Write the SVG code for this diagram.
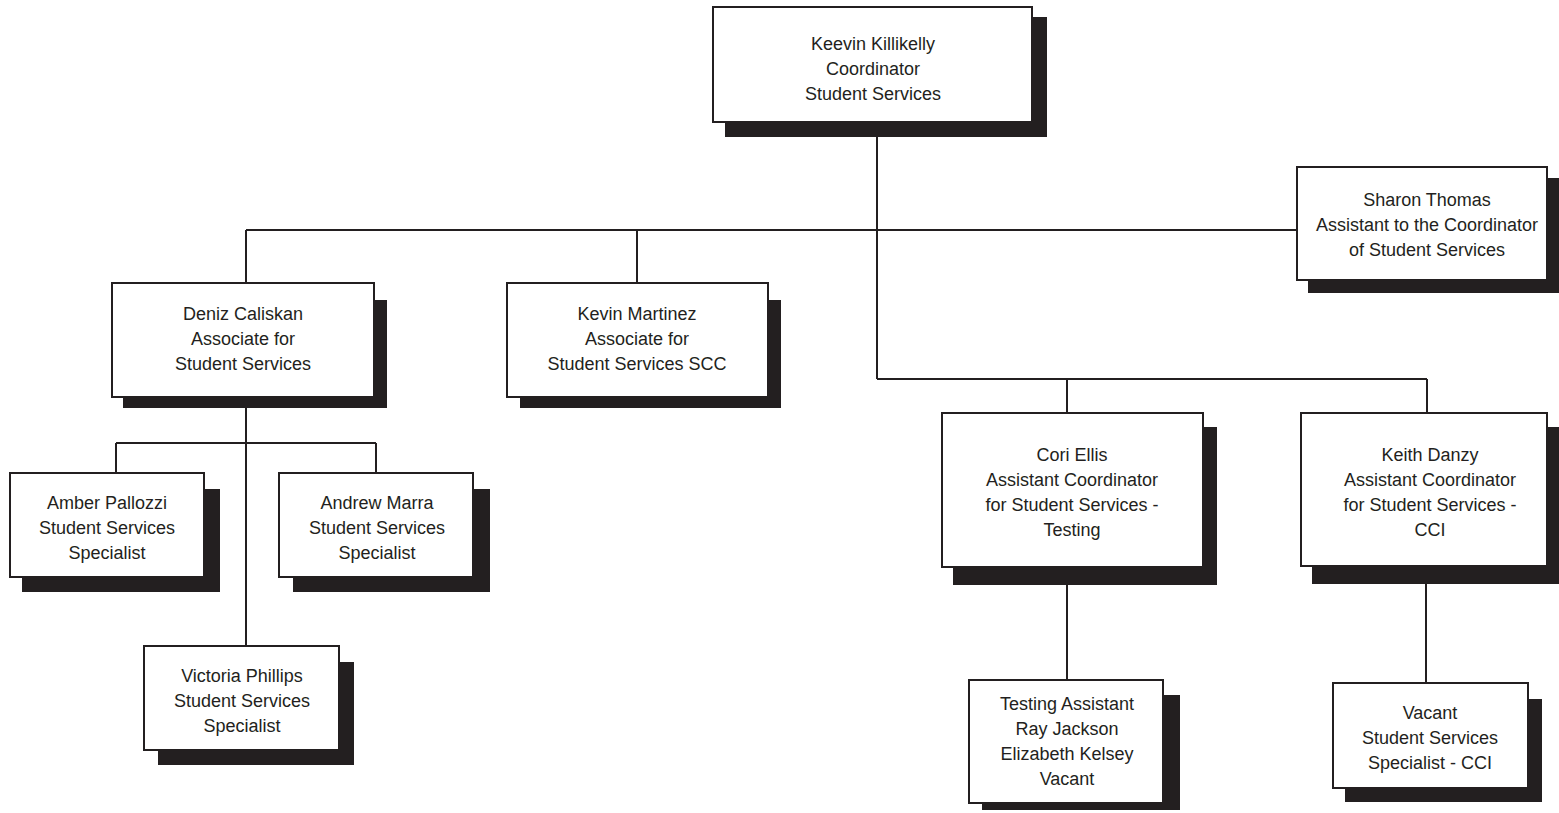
<svg xmlns="http://www.w3.org/2000/svg" width="1559" height="813" viewBox="0 0 1559 813">
<style>
.sh{fill:#231f20}
.bx{fill:#fff;stroke:#231f20;stroke-width:2}
.t{font-family:"Liberation Sans",Arial,sans-serif;font-size:18px;fill:#231f20;text-anchor:middle}
.c{stroke:#231f20;stroke-width:2;fill:none}
</style>
<rect width="1559" height="813" fill="#fff"/>
<g id="connectors">
<path class="c" d="M877 137V379M877 379H1427M1067 379V413M1427 379V413"/>
<path class="c" d="M246 230H1297M246 230V283M637 230V283"/>
<path class="c" d="M246 408V646M116 443H376M116 443V473M376 443V473"/>
<path class="c" d="M1067 585V680M1426 584V683"/>
</g>
<g id="n-keevin">
<rect class="sh" x="725" y="17" width="322" height="120"/>
<rect class="bx" x="713" y="7" width="319" height="115"/>
<text class="t" x="873" y="50">Keevin Killikelly</text>
<text class="t" x="873" y="75">Coordinator</text>
<text class="t" x="873" y="100">Student Services</text>
</g>
<g id="n-sharon">
<rect class="sh" x="1308" y="178" width="251" height="115"/>
<rect class="bx" x="1297" y="167" width="250" height="113"/>
<text class="t" x="1427" y="206">Sharon Thomas</text>
<text class="t" x="1427" y="231">Assistant to the Coordinator</text>
<text class="t" x="1427" y="256">of Student Services</text>
</g>
<g id="n-deniz">
<rect class="sh" x="123" y="300" width="264" height="108"/>
<rect class="bx" x="112" y="283" width="262" height="114"/>
<text class="t" x="243" y="320">Deniz Caliskan</text>
<text class="t" x="243" y="345">Associate for</text>
<text class="t" x="243" y="370">Student Services</text>
</g>
<g id="n-kevin">
<rect class="sh" x="520" y="300" width="261" height="108"/>
<rect class="bx" x="507" y="283" width="261" height="114"/>
<text class="t" x="637" y="320">Kevin Martinez</text>
<text class="t" x="637" y="345">Associate for</text>
<text class="t" x="637" y="370">Student Services SCC</text>
</g>
<g id="n-amber">
<rect class="sh" x="22" y="489" width="198" height="103"/>
<rect class="bx" x="10" y="473" width="194" height="104"/>
<text class="t" x="107" y="509">Amber Pallozzi</text>
<text class="t" x="107" y="534">Student Services</text>
<text class="t" x="107" y="559">Specialist</text>
</g>
<g id="n-andrew">
<rect class="sh" x="293" y="489" width="197" height="103"/>
<rect class="bx" x="279" y="473" width="194" height="104"/>
<text class="t" x="377" y="509">Andrew Marra</text>
<text class="t" x="377" y="534">Student Services</text>
<text class="t" x="377" y="559">Specialist</text>
</g>
<g id="n-victoria">
<rect class="sh" x="158" y="662" width="196" height="103"/>
<rect class="bx" x="144" y="646" width="195" height="104"/>
<text class="t" x="242" y="682">Victoria Phillips</text>
<text class="t" x="242" y="707">Student Services</text>
<text class="t" x="242" y="732">Specialist</text>
</g>
<g id="n-cori">
<rect class="sh" x="953" y="427" width="264" height="158"/>
<rect class="bx" x="942" y="413" width="261" height="154"/>
<text class="t" x="1072" y="461">Cori Ellis</text>
<text class="t" x="1072" y="486">Assistant Coordinator</text>
<text class="t" x="1072" y="511">for Student Services -</text>
<text class="t" x="1072" y="536">Testing</text>
</g>
<g id="n-keith">
<rect class="sh" x="1312" y="427" width="247" height="157"/>
<rect class="bx" x="1301" y="413" width="246" height="153"/>
<text class="t" x="1430" y="461">Keith Danzy</text>
<text class="t" x="1430" y="486">Assistant Coordinator</text>
<text class="t" x="1430" y="511">for Student Services -</text>
<text class="t" x="1430" y="536">CCI</text>
</g>
<g id="n-testing">
<rect class="sh" x="982" y="695" width="198" height="115"/>
<rect class="bx" x="969" y="680" width="194" height="123"/>
<text class="t" x="1067" y="710">Testing Assistant</text>
<text class="t" x="1067" y="735">Ray Jackson</text>
<text class="t" x="1067" y="760">Elizabeth Kelsey</text>
<text class="t" x="1067" y="785">Vacant</text>
</g>
<g id="n-vacant">
<rect class="sh" x="1345" y="699" width="197" height="103"/>
<rect class="bx" x="1333" y="683" width="195" height="105"/>
<text class="t" x="1430" y="719">Vacant</text>
<text class="t" x="1430" y="744">Student Services</text>
<text class="t" x="1430" y="769">Specialist - CCI</text>
</g>
</svg>
